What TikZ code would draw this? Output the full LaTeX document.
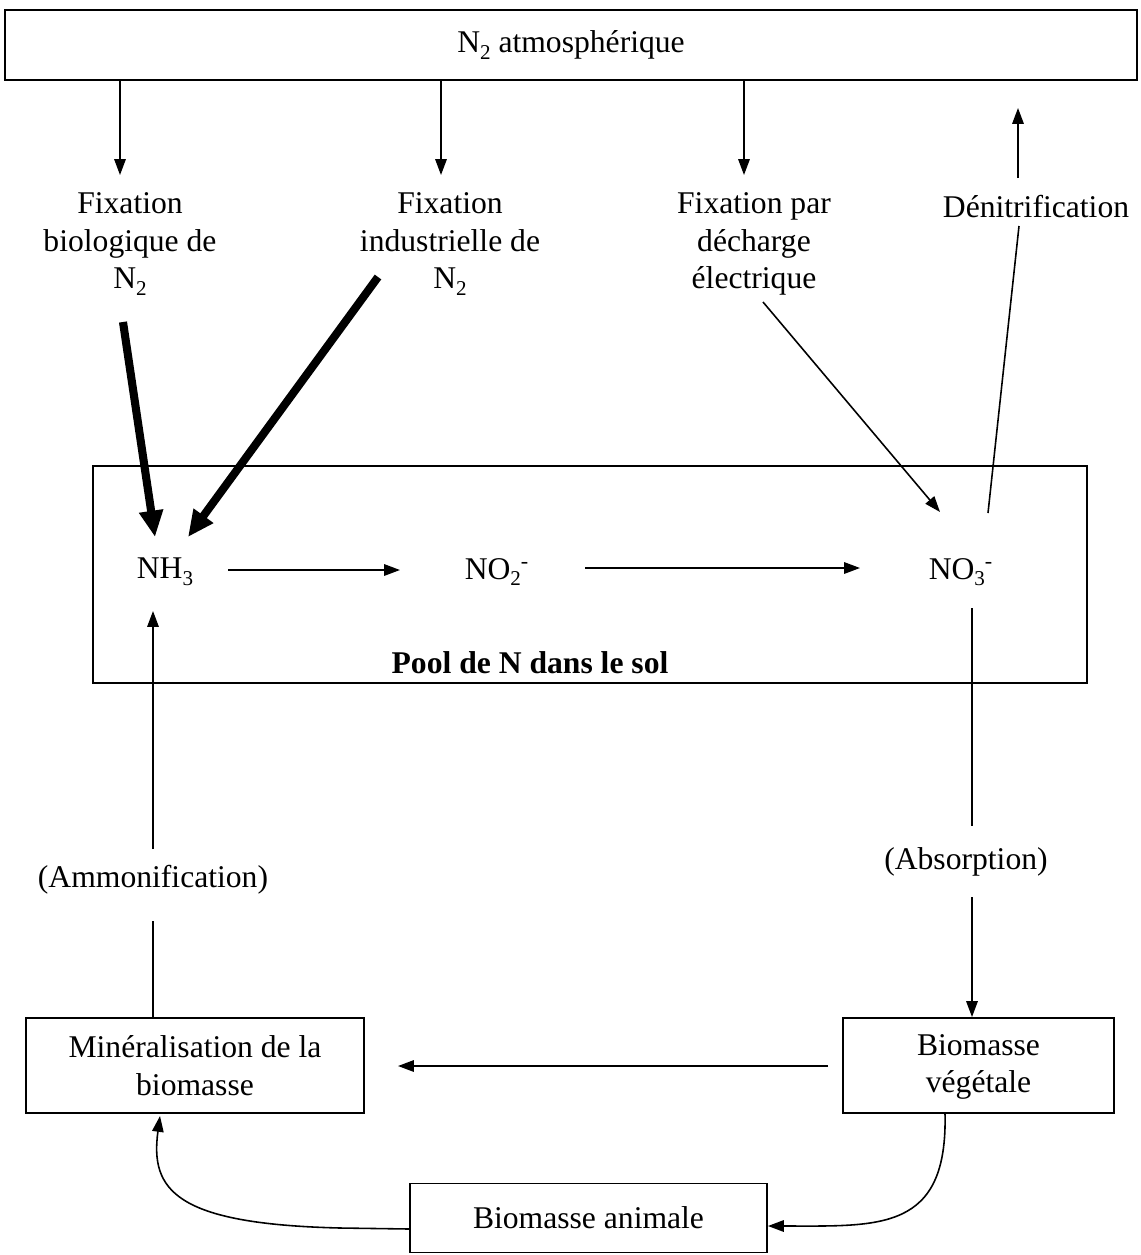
\documentclass[tikz,border=0pt]{standalone}
\usepackage{fontspec}
\setmainfont{Liberation Serif}
\usetikzlibrary{arrows.meta}
\newcommand{\sbs}[1]{\raisebox{-0.45ex}{\fontsize{12}{12}\selectfont #1}}
\begin{document}
\begin{tikzpicture}[x=0.02cm,y=-0.02cm,
  every node/.style={font=\fontsize{18}{21.5}\selectfont, inner sep=0pt},
  lbl/.style={align=center},
  box/.style={draw, line width=1.1pt, align=center},
  conn/.style={line width=0.9pt},
  arr/.style={conn,-{Triangle[length=9pt,width=6.5pt]}},
  bigarr/.style={line width=4.6pt,-{Triangle[length=15pt,width=13pt]}}]
\useasboundingbox (0,0) rectangle (1141,1255);
\fill[white] (0,0) rectangle (1141,1255);

% boxes
\node[box, minimum width=22.64cm, minimum height=1.4cm] (atm) at (571,45) {N\sbs{2} atmosphérique};
\node[draw, line width=1.1pt, minimum width=19.88cm, minimum height=4.34cm] (pool) at (590,574.5) {};
\node[font=\fontsize{18}{21.5}\selectfont\bfseries] (poollbl) at (530,663) {Pool de N dans le sol};
\node[box, minimum width=6.76cm, minimum height=1.9cm] (miner) at (195,1065.5) {Minéralisation de la\\biomasse};
\node[box, minimum width=5.42cm, minimum height=1.9cm, text depth=0.5ex] (veget) at (978.5,1065.5) {Biomasse\\végétale};
\node[box, minimum width=7.14cm, minimum height=1.38cm] (anim) at (588.5,1218) {Biomasse animale};

% labels
\node[lbl] (fixbio) at (130,244) {Fixation\\biologique de\\N\sbs{2}};
\node[lbl] (fixind) at (450,244) {Fixation\\industrielle de\\N\sbs{2}};
\node[lbl] (fixel) at (754,244) {Fixation par\\décharge\\électrique};
\node[lbl] (denit) at (1036,207) {Dénitrification};
\node (nh3) at (165,572) {NH\sbs{3}};
\node (no2) at (497,572) {NO\sbs{2}\textsuperscript{-}};
\node (no3) at (961,572) {NO\sbs{3}\textsuperscript{-}};
\node (ammo) at (153,880) {(Ammonification)};
\node (abso) at (966,862) {(Absorption)};

% connector end points
\coordinate (c1) at (120,175);
\coordinate (c2) at (441,175);
\coordinate (c3) at (744,175);
\coordinate (d1) at (1018,178);
\coordinate (d2) at (1018,108);
\coordinate (d3) at (988,513);
\coordinate (d4) at (1019,226);

% top arrows
\draw[arr] (atm.south -| c1) -- (c1);
\draw[arr] (atm.south -| c2) -- (c2);
\draw[arr] (atm.south -| c3) -- (c3);
\draw[arr] (d1) -- (d2);
\draw[conn] (d3) -- (d4);

% thick arrows
\draw[bigarr] (123,322) -- (155,537);
\draw[bigarr] (378,277) -- (188,537);
\draw[arr] (763,302) -- (940,512);

% chain in pool
\draw[arr] (228,570) -- (400,570);
\draw[arr] (585,568) -- (860,568);

% absorption
\draw[conn] (972,608) -- (972,826);
\draw[arr] (972,897) -- (veget.north -| 972,0);

% ammonification
\draw[arr] (153,849) -- (153,611);
\draw[conn] (miner.north -| 153,0) -- (153,921);

% bottom
\draw[arr] (828,1066) -- (398,1066);
\draw[arr] (945,1113) .. controls (948,1232) and (880,1226) .. (anim.east |- 0,1226);
\draw[arr] (anim.west |- 0,1229) -- (340,1228) .. controls (175,1224) and (150,1190) .. (160,1116);
\end{tikzpicture}
\end{document}
